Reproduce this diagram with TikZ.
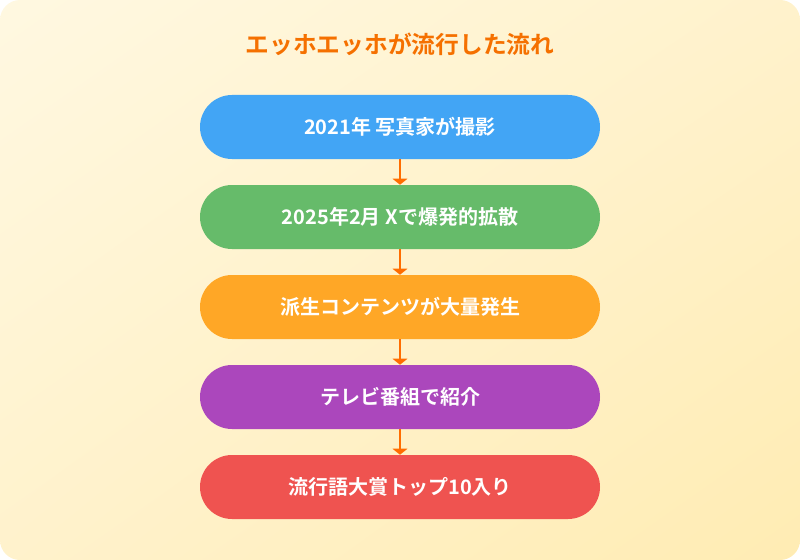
\documentclass[tikz,border=0pt]{standalone}
\usepackage{fontspec}
\newfontfamily\jpfont{Noto Sans CJK JP}[BoldFont={* Bold}]
\usetikzlibrary{arrows.meta,shadings}
\definecolor{bgtop}{HTML}{FFF8E1}
\definecolor{bgmid}{HTML}{FFF2CC}
\definecolor{bgbot}{HTML}{FFECB3}
\definecolor{titleorange}{HTML}{F57000}
\definecolor{arroworange}{HTML}{FF6D00}
\definecolor{stepblue}{HTML}{42A5F5}
\definecolor{stepgreen}{HTML}{66BB6A}
\definecolor{steporange}{HTML}{FFA726}
\definecolor{steppurple}{HTML}{AB47BC}
\definecolor{stepred}{HTML}{EF5350}
\tikzset{
  stepbox/.style={rounded corners=24pt, minimum width=300pt, minimum height=48pt,
    inner sep=0pt, text=white, font=\jpfont\bfseries\fontsize{15}{18}\selectfont},
  flowarrow/.style={draw=arroworange, line width=2.2pt,
    -{Triangle[width=11pt,length=4.5pt]}}
}
\begin{document}
\begin{tikzpicture}[x=0.75pt,y=-0.75pt]
% background
\useasboundingbox (0,0) rectangle (800,560);
\shade[upper left=bgtop, upper right=bgmid, lower left=bgmid, lower right=bgbot,
  rounded corners=15pt] (0,0) rectangle (800,560);

% title
\node (title) at (400,44) {\jpfont\bfseries\fontsize{17.8}{21}\selectfont\color{titleorange}エッホエッホが流行した流れ};

% steps
\node[stepbox, fill=stepblue] (s1) at (400,127) {2021年 写真家が撮影};
\node[stepbox, fill=stepgreen] (s2) at (400,217) {2025年2月 Xで爆発的拡散};
\node[stepbox, fill=steporange] (s3) at (400,307) {派生コンテンツが大量発生};
\node[stepbox, fill=steppurple] (s4) at (400,397) {テレビ番組で紹介};
\node[stepbox, fill=stepred] (s5) at (400,487) {流行語大賞トップ10入り};

% arrows
\foreach \a/\b in {s1/s2,s2/s3,s3/s4,s4/s5}
  \draw[flowarrow] (\a.south) -- (\b.north);
\end{tikzpicture}
\end{document}
